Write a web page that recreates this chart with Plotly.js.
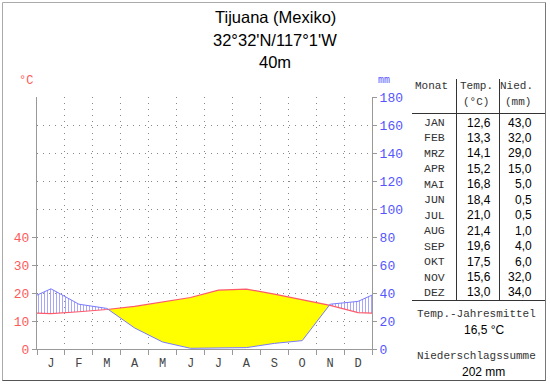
<!DOCTYPE html>
<html>
<head>
<meta charset="utf-8">
<script src="https://cdn.plot.ly/plotly-3.0.1.min.js"></script>
<style>
html,body{margin:0;padding:0;background:#fff;}
#chart{width:550px;height:384px;}
</style>
</head>
<body>
<div id="chart"></div>
<script>
// ---- data ----
const monthNames = ['JAN','FEB','MRZ','APR','MAI','JUN','JUL','AUG','SEP','OKT','NOV','DEZ'];
const monthLetters = ['J','F','M','A','M','J','J','A','S','O','N','D'];
const temperature = [12.6,13.3,14.1,15.2,16.8,18.4,21.0,21.4,19.6,17.5,15.6,13.0];
const precipitation = [43.0,32.0,29.0,15.0,5.0,0.5,0.5,1.0,4.0,6.0,32.0,34.0];
const titleLines = ['Tijuana (Mexiko)','32°32\'N/117°1\'W','40m'];
const tempTicks = [0,10,20,30,40];

// ---- geometry helpers (pixel -> paper) ----
const W = 550, H = 384;
const L = 37, R = 372, T = 97, B = 349;
const px = x => (x - L) / (R - L);
const py = y => (B - y) / (B - T);

// ---- build curves (month centres + wrap-around edges) ----
const n = 12;
const xs = [0], tv = [], pv = [];
const edgeT = (temperature[0] + temperature[n-1]) / 2;
const edgeP = (precipitation[0] + precipitation[n-1]) / 2;
tv.push(edgeT); pv.push(edgeP);
for (let i = 0; i < n; i++) { xs.push(i + 0.5); tv.push(temperature[i]); pv.push(precipitation[i]); }
xs.push(12); tv.push(edgeT); pv.push(edgeP);
const ps = pv.map(p => p / 2); // precipitation in temperature units (20 mm = 10 °C)

// insert crossings
const X = [], TT = [], PP = [];
for (let i = 0; i < xs.length; i++) {
  if (i > 0) {
    const d0 = ps[i-1] - tv[i-1], d1 = ps[i] - tv[i];
    if (d0 * d1 < 0) {
      const f = d0 / (d0 - d1);
      X.push(xs[i-1] + f * (xs[i] - xs[i-1]));
      const yc = tv[i-1] + f * (tv[i] - tv[i-1]);
      TT.push(yc); PP.push(yc);
    }
  }
  X.push(xs[i]); TT.push(tv[i]); PP.push(ps[i]);
}
const upper = X.map((_, i) => Math.max(TT[i], PP[i]));
const lower = X.map((_, i) => Math.min(TT[i], PP[i]));

const traces = [
  {x: X, y: TT, mode: 'lines', line: {width: 0, color: 'rgba(0,0,0,0)'}, hoverinfo: 'skip', showlegend: false},
  {x: X, y: upper, mode: 'lines', line: {width: 0, color: 'rgba(0,0,0,0)'}, fill: 'tonexty',
   fillcolor: 'rgba(0,0,0,0)',
   fillpattern: {shape: '|', fgcolor: '#9d9dff', bgcolor: 'rgba(255,255,255,0)', size: 3, solidity: 0.3},
   hoverinfo: 'skip', showlegend: false},
  {x: X, y: lower, mode: 'lines', line: {width: 0, color: 'rgba(0,0,0,0)'}, hoverinfo: 'skip', showlegend: false},
  {x: X, y: TT, mode: 'lines', line: {width: 0, color: 'rgba(0,0,0,0)'}, fill: 'tonexty',
   fillcolor: '#ffff00', hoverinfo: 'skip', showlegend: false},
  {x: xs, y: pv, yaxis: 'y2', mode: 'lines', line: {width: 1, color: '#7a7aff'}, showlegend: false},
  {x: xs, y: tv, mode: 'lines', line: {width: 1.2, color: '#ff5a6a'}, showlegend: false}
];

// ---- annotations ----
const mono = 'Liberation Mono, Courier New, monospace';
const sans = 'Liberation Sans, Arial, sans-serif';
const ann = [];
function txt(text, x, y, anchor, font) {
  ann.push({text: text, x: px(x), y: py(y), xref: 'paper', yref: 'paper',
    xanchor: anchor, yanchor: 'middle', showarrow: false, font: font});
}
const titleY = [17, 40, 62];
titleLines.forEach((t, i) => txt(t, 275, titleY[i], 'center', {family: sans, size: 16.5, color: '#000'}));
txt('°C', 26, 81, 'center', {family: mono, size: 12, color: '#ff5a5a'});
txt('mm', 384, 80, 'center', {family: mono, size: 10, color: '#5555ff'});

const hdr = {family: mono, size: 11, color: '#333'};
txt('Monat', 431, 86, 'center', hdr);
txt('Temp.', 476, 86, 'center', hdr);
txt('(°C)', 476, 102, 'center', hdr);
txt('Nied.', 516, 86, 'center', hdr);
txt('(mm)', 518, 102, 'center', hdr);
const fmt = v => v.toFixed(1).replace('.', ',');
for (let i = 0; i < n; i++) {
  const y = 122.5 + i * 15.45;
  txt(monthNames[i], 447, y, 'right', {family: mono, size: 11.5, color: '#333'});
  txt(fmt(temperature[i]), 493, y, 'right', {family: sans, size: 12, color: '#000'});
  txt(fmt(precipitation[i]), 534, y, 'right', {family: sans, size: 12, color: '#000'});
}
const meanT = temperature.reduce((a, b) => a + b, 0) / n;
const sumP = precipitation.reduce((a, b) => a + b, 0);
txt('Temp.-Jahresmittel', 476, 314, 'center', {family: mono, size: 11, color: '#333'});
txt(fmt(meanT) + ' °C', 484, 330, 'center', {family: sans, size: 12, color: '#000'});
txt('Niederschlagssumme', 476, 356, 'center', {family: mono, size: 11, color: '#333'});
txt(Math.round(sumP) + ' mm', 484, 372, 'center', {family: sans, size: 12, color: '#000'});

// ---- shapes (table lines + frame) ----
function line(x0, y0, x1, y1, color) {
  return {type: 'line', xref: 'paper', yref: 'paper', x0: px(x0), y0: py(y0), x1: px(x1), y1: py(y1),
    line: {color: color, width: 1}};
}
const shapes = [
  line(456.5, 79, 456.5, 301, '#333'),
  line(499.5, 79, 499.5, 301, '#333'),
  line(412, 113.5, 545, 113.5, '#333'),
  line(412, 300.5, 545, 300.5, '#333'),
  line(2.5, 2.5, 545.5, 2.5, '#aaa'),
  line(2.5, 2.5, 2.5, 381, '#aaa'),
  line(545.5, 2.5, 545.5, 381, '#777'),
  line(2.5, 380.5, 545.5, 380.5, '#555')
];

const gridDash = '1px,5px';
const layout = {
  width: W, height: H,
  margin: {l: L, r: W - R, t: T, b: H - B, pad: 0},
  paper_bgcolor: '#fff', plot_bgcolor: '#fff',
  font: {family: sans},
  showlegend: false,
  xaxis: {
    range: [0, 12], showline: true, linecolor: '#999', linewidth: 1, zeroline: false,
    tickvals: monthLetters.map((_, i) => i + 0.5), ticktext: monthLetters,
    ticks: '', showgrid: false, ticklabelstandoff: 3,
    tickfont: {family: mono, size: 12, color: '#444'},
    minor: {tickmode: 'linear', tick0: 0, dtick: 1, ticks: 'outside', ticklen: 5, tickcolor: '#999',
      showgrid: true, gridcolor: '#888', griddash: gridDash, gridwidth: 1},
    fixedrange: true
  },
  yaxis: {
    range: [0, 90], showline: true, linecolor: '#999', zeroline: false, showgrid: false,
    tickvals: tempTicks, ticks: 'outside', ticklen: 4, tickcolor: '#999',
    tickfont: {family: mono, size: 13, color: '#ff5a5a'}, fixedrange: true
  },
  yaxis2: {
    range: [0, 180], overlaying: 'y', side: 'right', showline: true, linecolor: '#999', zeroline: false,
    tickmode: 'linear', tick0: 0, dtick: 20, ticks: 'outside', ticklen: 4, tickcolor: '#999',
    showgrid: true, gridcolor: '#888', griddash: gridDash, gridwidth: 1,
    tickfont: {family: mono, size: 13, color: '#5555ff'}, fixedrange: true
  },
  annotations: ann,
  shapes: shapes
};

Plotly.newPlot('chart', traces, layout, {staticPlot: true, displayModeBar: false});
</script>
</body>
</html>
